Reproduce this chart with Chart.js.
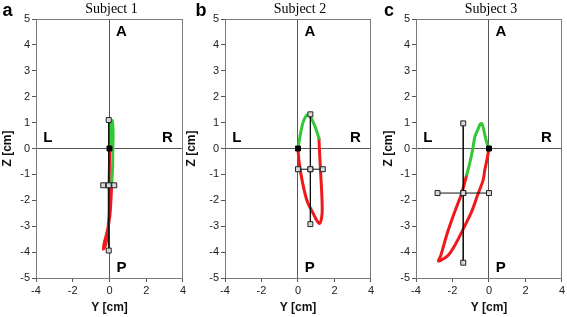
<!DOCTYPE html>
<html>
<head>
<meta charset="utf-8">
<script src="https://cdn.jsdelivr.net/npm/chart.js@4.4.1/dist/chart.umd.min.js"></script>
<style>
  html, body { margin: 0; padding: 0; background: #fff; }
  body { width: 567px; height: 317px; position: relative; overflow: hidden; }
  canvas { position: absolute; top: 0; }
</style>
</head>
<body>
<canvas id="c1" width="188" height="317" style="left:0px;width:188px;height:317px"></canvas>
<canvas id="c2" width="192" height="317" style="left:184px;width:192px;height:317px"></canvas>
<canvas id="c3" width="186" height="317" style="left:381px;width:186px;height:317px"></canvas>
<script>
// panel texts
var titles = ['Subject 1', 'Subject 2', 'Subject 3'];
var letters = ['a', 'b', 'c'];
var quadLabels = ['A', 'L', 'R', 'P'];

// axis ticks
var yTickMin = -4, yTickMax = 4, yTickStep = 2;   // horizontal axis, Y [cm]
var zTickMin = -5, zTickMax = 5, zTickStep = 1;   // vertical axis, Z [cm]

// subject 1 trajectory (Y, Z in cm)
var greenY1 = [0, 0.05, 0.08, 0.15, 0.2, 0.18, 0.17, 0.12];
var greenZ1 = [0, 0.5, 1.0, 1.08, 0.6, 0, -0.7, -1.4];
var redY1 = [0.12, 0.08, 0.02, -0.12, -0.27, -0.33, -0.2, -0.1, -0.02, -0.02, 0, 0];
var redZ1 = [-1.4, -2.0, -2.6, -3.2, -3.6, -3.88, -3.7, -3.2, -2.5, -1.5, -0.6, 0];

// subject 2 trajectory
var greenY2 = [0, 0.16, 0.3, 0.51, 0.68, 0.88, 1.05, 1.15];
var greenZ2 = [0, 0.65, 1.05, 1.3, 1.22, 0.95, 0.62, 0.39];
var redY2 = [1.15, 1.19, 1.24, 1.29, 1.33, 1.3, 1.19, 1.05, 0.88, 0.51, 0.24, 0.06, 0];
var redZ2 = [0.39, -0.25, -0.9, -1.54, -2.31, -2.65, -2.89, -2.8, -2.57, -2.05, -1.28, -0.51, 0];

// subject 3 trajectory
var greenY3 = [0, -0.15, -0.28, -0.38, -0.47, -0.6, -0.77, -0.9, -1.05, -1.22];
var greenZ3 = [0, 0.3, 0.7, 0.95, 0.95, 0.75, 0.46, -0.06, -0.55, -1.02];
var redY3 = [-1.22, -1.5, -1.8, -2.04, -2.3, -2.5, -2.65, -2.77, -2.6, -2.22, -1.8, -1.44, -0.95, -0.59, -0.32, -0.23, -0.1, 0];
var redZ3 = [-1.02, -1.74, -2.3, -2.76, -3.3, -3.79, -4.15, -4.34, -4.3, -4.11, -3.65, -3.15, -2.44, -1.73, -1.22, -0.83, -0.4, 0];

// mean and spread (cross bars) per subject
var meanY = [-0.04, 0.68, -1.41];
var meanZ = [-1.42, -0.8, -1.72];
var sdY = [0.3, 0.68, 1.41];
var sdZ = [2.52, 2.12, 2.69];

var GREEN = '#33c733';
var RED = '#ee1a1a';
var SANS = '"Liberation Sans", Arial, sans-serif';

function pts(xs, ys) {
  return xs.map(function (v, i) { return { x: v, y: ys[i] }; });
}

var panelDecor = {
  id: 'panelDecor',
  afterDraw: function (chart, args, opts) {
    var ctx = chart.ctx, a = chart.chartArea, sx = chart.scales.x, sy = chart.scales.y;
    ctx.save();
    ctx.strokeStyle = '#7a7a7a';
    ctx.lineWidth = 1;
    ctx.strokeRect(Math.round(a.left) + 0.5, Math.round(a.top) + 0.5,
      Math.round(a.right - a.left) - 1, Math.round(a.bottom - a.top));
    ctx.fillStyle = '#000';
    ctx.textAlign = 'center';
    ctx.textBaseline = 'middle';
    ctx.font = 'bold 15px ' + SANS;
    var lx = [0.65, -3.35, 3.15, 0.65];
    var lz = [4.5, 0.4, 0.4, -4.62];
    quadLabels.forEach(function (t, i) {
      ctx.fillText(t, sx.getPixelForValue(lx[i]), sy.getPixelForValue(lz[i]));
    });
    ctx.font = '14px "Liberation Serif", "Times New Roman", serif';
    ctx.fillText(opts.title, (a.left + a.right) / 2 + 2, 9);
    ctx.font = 'bold 18px ' + SANS;
    ctx.fillText(opts.letter, opts.letterX, 11);
    ctx.restore();
  }
};

function makePanel(id, k, gY, gZ, rY, rZ, axisW, padRight, letterX) {
  var line = function (data, color) {
    return {
      data: data, showLine: true, borderColor: color, borderWidth: 3,
      pointRadius: 0, tension: 0.3, borderCapStyle: 'round', borderJoinStyle: 'round', order: 3
    };
  };
  var bar = function (data) {
    return {
      data: data, showLine: true, borderColor: '#111', borderWidth: 1,
      pointStyle: 'rect', pointRadius: 3.5, pointBackgroundColor: '#d8d8d8',
      pointBorderColor: '#222', pointBorderWidth: 1, order: 1
    };
  };
  var vBar = [
    { x: meanY[k], y: meanZ[k] + sdZ[k] },
    { x: meanY[k], y: meanZ[k] },
    { x: meanY[k], y: meanZ[k] - sdZ[k] }
  ];
  var hBar = [
    { x: meanY[k] - sdY[k], y: meanZ[k] },
    { x: meanY[k], y: meanZ[k] },
    { x: meanY[k] + sdY[k], y: meanZ[k] }
  ];
  var zeroGrid = function (c) { return c.tick && c.tick.value === 0 ? '#555' : 'rgba(0,0,0,0)'; };
  return new Chart(document.getElementById(id), {
    type: 'scatter',
    data: {
      datasets: [
        line(pts(gY, gZ), GREEN),
        line(pts(rY, rZ), RED),
        bar(vBar),
        bar(hBar),
        { data: [{ x: 0, y: 0 }], pointStyle: 'rect', pointRadius: 3.5,
          pointBackgroundColor: '#000', pointBorderColor: '#000', order: 0 }
      ]
    },
    options: {
      responsive: false,
      animation: false,
      layout: { padding: { left: 0, right: padRight, top: 19, bottom: 0 } },
      plugins: {
        legend: { display: false },
        tooltip: { enabled: false },
        panelDecor: { title: titles[k], letter: letters[k], letterX: letterX }
      },
      scales: {
        x: {
          type: 'linear', min: yTickMin, max: yTickMax,
          ticks: { stepSize: yTickStep, color: '#222', padding: 2, font: { family: SANS, size: 11 } },
          grid: { color: zeroGrid, tickColor: '#555', tickLength: 4 },
          border: { color: '#7a7a7a' },
          title: { display: true, text: 'Y [cm]', color: '#111', padding: { top: 0, bottom: 2 },
            font: { family: SANS, size: 12, weight: 'bold' } },
          afterFit: function (s) { s.height = 39; }
        },
        y: {
          type: 'linear', min: zTickMin, max: zTickMax,
          ticks: { stepSize: zTickStep, color: '#222', padding: 2, font: { family: SANS, size: 11 } },
          grid: { color: zeroGrid, tickColor: '#555', tickLength: 4 },
          border: { color: '#7a7a7a' },
          title: { display: true, text: 'Z [cm]', color: '#111', padding: { top: 0, bottom: 0 },
            font: { family: SANS, size: 12, weight: 'bold' } },
          afterFit: function (s) { s.width = axisW; }
        }
      }
    },
    plugins: [panelDecor]
  });
}

makePanel('c1', 0, greenY1, greenZ1, redY1, redZ1, 36, 5, 7.5);
makePanel('c2', 1, greenY2, greenZ2, redY2, redZ2, 41, 3, 17);
makePanel('c3', 2, greenY3, greenZ3, redY3, redZ3, 35, 4, 8);
</script>
</body>
</html>
